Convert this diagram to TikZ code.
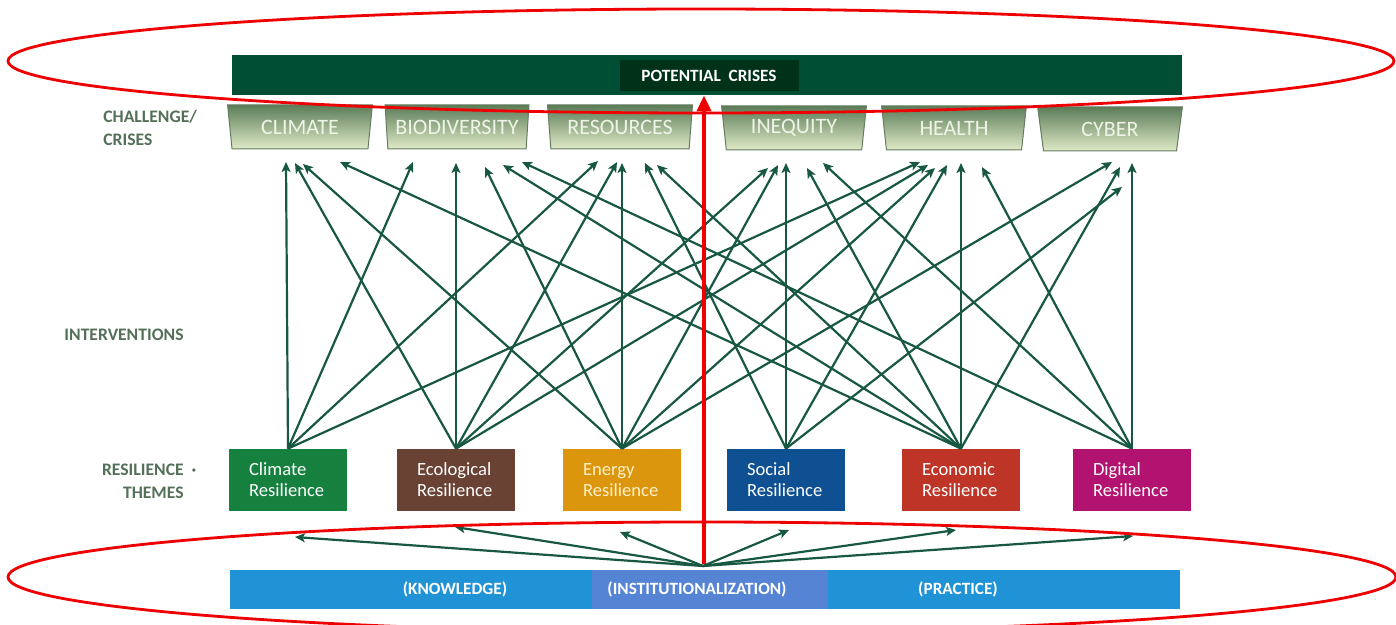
\documentclass[tikz,border=0pt]{standalone}
\usepackage{fontspec}
\setmainfont{Carlito}
\usetikzlibrary{shapes.geometric,arrows.meta,calc}
\definecolor{topbar}{RGB}{0,78,52}
\definecolor{topin}{RGB}{0,50,26}
\definecolor{arr}{RGB}{24,88,66}
\definecolor{lab}{RGB}{84,112,88}
\definecolor{trtop}{RGB}{92,124,88}
\definecolor{trbot}{RGB}{224,234,200}
\definecolor{trtxt}{RGB}{238,244,230}
\definecolor{trdraw}{RGB}{100,125,96}
\definecolor{cclim}{RGB}{22,128,62}
\definecolor{ceco}{RGB}{106,66,52}
\definecolor{cener}{RGB}{220,150,14}
\definecolor{csoc}{RGB}{14,80,145}
\definecolor{cecon}{RGB}{190,52,38}
\definecolor{cdig}{RGB}{178,18,112}
\definecolor{bbar}{RGB}{32,146,214}
\definecolor{bin}{RGB}{86,132,212}
\definecolor{redl}{RGB}{238,0,0}
\begin{document}
\begin{tikzpicture}[x=0.5pt,y=-0.5pt,
  crisis/.style={trapezium, shape border rotate=180, trapezium left angle=80,
    trapezium right angle=80, trapezium stretches=true, minimum width=72.5pt,
    minimum height=22pt, top color=trtop, bottom color=trbot, draw=trdraw,
    line width=0.5pt, text=trtxt, font=\fontsize{11}{12}\selectfont, inner sep=0pt},
  theme/.style={rectangle, minimum width=59pt, minimum height=31pt, text=white,
    font=\fontsize{9.3}{10.5}\selectfont, align=left, text width=39pt, inner sep=0pt},
  sidelab/.style={text=lab, font=\bfseries\fontsize{8.8}{11.5}\selectfont, inner sep=0pt},
  barlab/.style={text=white, font=\bfseries\fontsize{8.6}{10}\selectfont, inner sep=0pt},
  conn/.style={draw=arr, line width=1.1pt, -{Stealth[length=5pt,width=4.5pt,inset=1.2pt]}},
  redmark/.style={draw=redl, line width=1.4pt}
]
\useasboundingbox (0,0) rectangle (1396,625);

% top bar
\node[fill=topbar, minimum width=475pt, minimum height=20pt, inner sep=0pt] (topbar) at (707,75) {};
\node[fill=topin, minimum width=89.5pt, minimum height=15.5pt, inner sep=0pt] (topin) at (709.5,75.5) {};
\node[barlab] (pc) at (709,76) {POTENTIAL\ \ CRISES};

% crises
\node[crisis] (cC) at (300,127) {CLIMATE};
\node[crisis] (cB) at (457,127) {BIODIVERSITY};
\node[crisis] (cR) at (620,127) {RESOURCES};
\node[crisis] (cI) at (794,128) {INEQUITY};
\node[crisis] (cH) at (954,128) {HEALTH};
\node[crisis] (cY) at (1110,129) {CYBER};

% side labels
\node[sidelab, anchor=west, align=left] (l1) at (103,128) {CHALLENGE/\\CRISES};
\node[sidelab] (l2) at (124,335) {INTERVENTIONS};
\node[sidelab, anchor=east, align=right] (l3) at (184,481) {RESILIENCE\rlap{\ \ ·}\\THEMES};

% themes
\node[theme, fill=cclim] (tC) at (288,480) {Climate\\Resilience};
\node[theme, fill=ceco] (tE) at (456,480) {Ecological\\Resilience};
\node[theme, fill=cener, text={rgb,255:red,255;green,240;blue,200}] (tN) at (622,480) {Energy\\Resilience};
\node[theme, fill=csoc] (tS) at (786,480) {Social\\Resilience};
\node[theme, fill=cecon] (tK) at (961,480) {Economic\\Resilience};
\node[theme, fill=cdig] (tD) at (1132,480) {Digital\\Resilience};

% bottom bar
\node[fill=bbar, minimum width=475pt, minimum height=19.5pt, inner sep=0pt] (bbar) at (705,589.5) {};
\node[fill=bin, minimum width=118pt, minimum height=19.5pt, inner sep=0pt] (bin) at (710,589.5) {};
\node[barlab] (kn) at (455,589) {(KNOWLEDGE)};
\node[barlab] (in) at (697,589) {(INSTITUTIONALIZATION)};
\node[barlab] (pr) at (958,589) {(PRACTICE)};

% arrow tips under crises
\coordinate (C1) at (286,162); \coordinate (C2) at (295,163);
\coordinate (C3) at (303,164); \coordinate (C4) at (340,162);
\coordinate (B1) at (413,162); \coordinate (B2) at (456,163);
\coordinate (B3) at (485,167); \coordinate (B4) at (503,165);
\coordinate (B5) at (522,162);
\coordinate (R1) at (598,161); \coordinate (R2) at (617,162);
\coordinate (R3) at (622,163); \coordinate (R4) at (645,163);
\coordinate (R5) at (657,165);
\coordinate (I1) at (768,168); \coordinate (I2) at (778,165);
\coordinate (I3) at (786,163); \coordinate (I4) at (807,168);
\coordinate (I5) at (823,163);
\coordinate (H1) at (920,162); \coordinate (H2) at (928,165);
\coordinate (H3) at (935,168); \coordinate (H4) at (947,165);
\coordinate (H5) at (961,163); \coordinate (H6) at (982,167);
\coordinate (Y1) at (1112,162); \coordinate (Y2) at (1120,167);
\coordinate (Y3) at (1122,187); \coordinate (Y4) at (1132,163);

% interventions
\draw[conn] (tC.north) -- (C1);
\draw[conn] (tC.north) -- (B1);
\draw[conn] (tC.north) -- (R1);
\draw[conn] (tC.north) -- (H1);
\draw[conn] (tE.north) -- (C2);
\draw[conn] (tE.north) -- (B2);
\draw[conn] (tE.north) -- (R2);
\draw[conn] (tE.north) -- (I1);
\draw[conn] (tE.north) -- (H2);
\draw[conn] (tN.north) -- (C3);
\draw[conn] (tN.north) -- (B3);
\draw[conn] (tN.north) -- (R3);
\draw[conn] (tN.north) -- (I2);
\draw[conn] (tN.north) -- (H3);
\draw[conn] (tN.north) -- (Y1);
\draw[conn] (tS.north) -- (R4);
\draw[conn] (tS.north) -- (I3);
\draw[conn] (tS.north) -- (H4);
\draw[conn] (tS.north) -- (Y3);
\draw[conn] (tK.north) -- (C4);
\draw[conn] (tK.north) -- (B4);
\draw[conn] (tK.north) -- (R5);
\draw[conn] (tK.north) -- (I4);
\draw[conn] (tK.north) -- (H5);
\draw[conn] (tK.north) -- (Y2);
\draw[conn] (tD.north) -- (B5);
\draw[conn] (tD.north) -- (I5);
\draw[conn] (tD.north) -- (H6);
\draw[conn] (tD.north) -- (Y4);

% bottom fan
\coordinate (hub) at (703,566);
\coordinate (q1) at (295,537); \coordinate (q2) at (455,527);
\coordinate (q3) at (620,532); \coordinate (q4) at (789,530);
\coordinate (q5) at (956,530); \coordinate (q6) at (1133,536);
\foreach \q in {q1,q2,q3,q4,q5,q6} \draw[conn] (hub) -- (\q);

% red overlay
\draw[redmark] (701,61) ellipse [x radius=346.5pt, y radius=26pt];
\draw[redmark] (702,577) ellipse [x radius=347pt, y radius=27.5pt];
\coordinate (rb) at (704,564);
\draw[draw=redl, line width=2pt, -{Triangle[length=8pt,width=7pt]}] (rb) -- (topbar.south -| rb);
\end{tikzpicture}
\end{document}
